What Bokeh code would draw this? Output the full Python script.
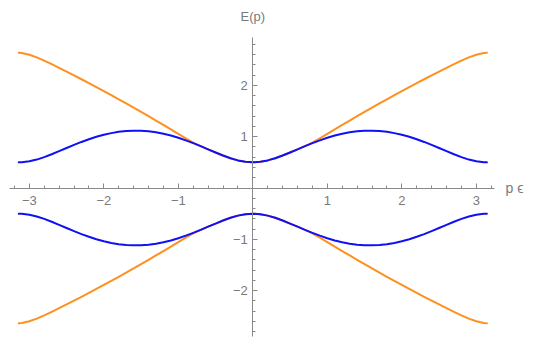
from bokeh.plotting import figure
from bokeh.models import LinearAxis, SingleIntervalTicker, Label, Range1d
from bokeh.embed import file_html
from bokeh.resources import INLINE

# momentum values p*eps (positive half, mirrored for negative side)
p_half = [0.0, 0.1, 0.2, 0.3, 0.4, 0.5, 0.6, 0.7, 0.8, 0.9, 1.0, 1.1, 1.2, 1.3, 1.4, 1.5,
          1.6, 1.7, 1.8, 1.9, 2.0, 2.1, 2.2, 2.3, 2.4, 2.5, 2.6, 2.7, 2.8, 2.9, 3.0, 3.1, 3.1416]
# blue branch E(p) (upper)
blue_half = [0.500, 0.510, 0.538, 0.581, 0.634, 0.693, 0.754, 0.816, 0.874, 0.929, 0.979,
             1.022, 1.058, 1.086, 1.105, 1.116, 1.118, 1.111, 1.095, 1.070, 1.038, 0.998,
             0.951, 0.898, 0.840, 0.780, 0.718, 0.658, 0.602, 0.554, 0.520, 0.502, 0.500]
# orange branch E(p) (upper)
orange_half = [0.500, 0.510, 0.538, 0.581, 0.634, 0.693, 0.754, 0.816, 0.886, 0.968, 1.054,
               1.142, 1.229, 1.315, 1.400, 1.484, 1.567, 1.649, 1.730, 1.810, 1.889, 1.967,
               2.044, 2.120, 2.195, 2.269, 2.342, 2.413, 2.482, 2.546, 2.598, 2.632, 2.638]

x_ticks = [-3, -2, -1, 1, 2, 3]
y_ticks = [-2, -1, 1, 2]

p_full = [-v for v in reversed(p_half)] + p_half[1:]
blue_full = list(reversed(blue_half)) + blue_half[1:]
orange_full = list(reversed(orange_half)) + orange_half[1:]
blue_neg = [-v for v in blue_full]
orange_neg = [-v for v in orange_full]

X_AX = (-3.266, 3.244)
Y_AX = (-2.89, 2.93)

p = figure(width=534, height=339, output_backend="svg", toolbar_location=None,
           x_range=Range1d(-3.387, 3.781), y_range=Range1d(-2.953, 3.655),
           x_axis_type=None, y_axis_type=None,
           min_border_left=0, min_border_right=0, min_border_top=0, min_border_bottom=0)
p.outline_line_color = None
p.grid.visible = False
p.background_fill_color = "white"

ORANGE = "#FF9020"
BLUE = "#1010F5"
for ys, c in ((orange_full, ORANGE), (orange_neg, ORANGE), (blue_full, BLUE), (blue_neg, BLUE)):
    p.line(p_full, ys, line_color=c, line_width=2, line_join="round", line_cap="round")

AX = "#8a8a8a"
TXT = "#7a7a7a"
FONT = "Liberation Sans"

def fmt(ticks):
    d = {t: ("\u2212" + str(-t) if t < 0 else str(t)) for t in ticks}
    d[0] = ""
    return d

xa = LinearAxis(ticker=SingleIntervalTicker(interval=1, num_minor_ticks=5), bounds=X_AX)
xa.fixed_location = 0
xa.major_label_overrides = fmt(x_ticks)
ya = LinearAxis(ticker=SingleIntervalTicker(interval=1, num_minor_ticks=5), bounds=Y_AX)
ya.fixed_location = 0
ya.major_label_overrides = fmt(y_ticks)
for ax in (xa, ya):
    ax.axis_line_color = AX
    ax.major_tick_line_color = AX
    ax.minor_tick_line_color = AX
    ax.major_tick_in = 5
    ax.major_tick_out = 0
    ax.minor_tick_in = 3
    ax.minor_tick_out = 0
    ax.major_label_text_color = TXT
    ax.major_label_text_font = FONT
    ax.major_label_text_font_size = "13px"
xa.major_label_standoff = 8
ya.major_label_standoff = 5
p.add_layout(xa, "below")
p.add_layout(ya, "left")

p.add_layout(Label(x=0, y=Y_AX[1], y_offset=14, text="E(p)", text_align="center",
                   text_baseline="bottom", text_color=TXT, text_font=FONT,
                   text_font_size="13px"))
p.add_layout(Label(x=X_AX[1], y=0, x_offset=11, text="p \u03f5", text_align="left",
                   text_baseline="middle", text_color=TXT, text_font=FONT,
                   text_font_size="14px"))

open("out.html", "w").write(file_html(p, INLINE))
